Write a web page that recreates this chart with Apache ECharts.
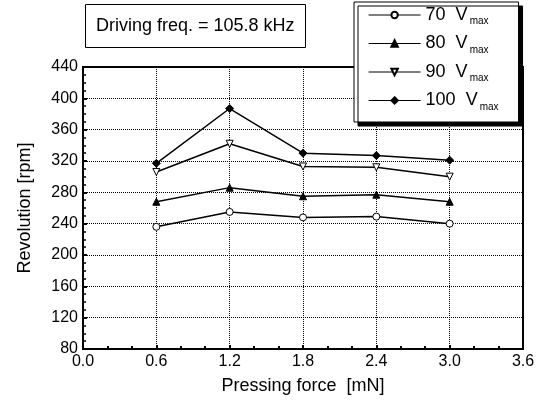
<!DOCTYPE html>
<html>
<head>
<meta charset="utf-8">
<script src="https://cdn.jsdelivr.net/npm/echarts@6/dist/echarts.min.js"></script>
<style>
  html, body { margin: 0; padding: 0; background: #fff; }
  #chart { width: 550px; height: 407px; }
</style>
</head>
<body>
<div id="chart"></div>
<script>
  // pressing force [mN]
  var force = [0.6, 1.2, 1.8, 2.4, 3.0];
  // revolution [rpm] per driving voltage
  var v70 = [236, 255, 248, 249, 240];
  var v80 = [268, 286, 275, 277, 268];
  var v90 = [306, 342, 313, 312, 300];
  var v100 = [317, 387, 330, 327, 321];
  var voltNames = ['70', '80', '90', '100'];

  function pairs(ys) {
    return force.map(function (x, i) { return [x, ys[i]]; });
  }

  var font = 'Liberation Sans, Arial, sans-serif';
  var myChart = echarts.init(document.getElementById('chart'));

  function makeSeries(name, ys, symbol, fill, rotate) {
    return {
      name: name,
      type: 'line',
      data: pairs(ys),
      symbol: symbol,
      symbolSize: symbol === 'diamond' ? 8 : 7,
      symbolRotate: rotate || 0,
      lineStyle: { color: '#000', width: 1.5 },
      itemStyle: { color: fill, borderColor: '#000', borderWidth: 1 },
      emphasis: { disabled: true },
      z: 5
    };
  }

  myChart.setOption({
    animation: false,
    title: {
      text: 'Driving freq. = 105.8 kHz',
      left: 85,
      top: 4,
      padding: [13, 11, 13, 11],
      borderColor: '#000',
      borderWidth: 1,
      textStyle: { fontFamily: font, fontSize: 18, fontWeight: 'normal', color: '#000' }
    },
    legend: {
      orient: 'vertical',
      left: 354,
      top: 2,
      padding: [4, 20, 10, 14],
      itemWidth: 52,
      itemHeight: 8,
      itemGap: 8,
      backgroundColor: '#fff',
      borderColor: '#000',
      borderWidth: 1,
      shadowColor: '#000',
      shadowBlur: 0,
      shadowOffsetX: 4,
      shadowOffsetY: 4,
      lineStyle: { width: 1.2 },
      data: voltNames,
      formatter: function (n) { return '{n|' + n + '  V}{s|max}'; },
      textStyle: {
        fontFamily: font,
        color: '#000',
        rich: {
          n: { fontFamily: font, fontSize: 18, color: '#000' },
          s: { fontFamily: font, fontSize: 10, color: '#000', verticalAlign: 'bottom', padding: [13, 0, 0, 2] }
        }
      }
    },
    grid: {
      left: 83,
      right: 27,
      top: 67,
      bottom: 58,
      show: true,
      borderColor: '#000',
      borderWidth: 2,
      backgroundColor: 'transparent'
    },
    xAxis: {
      type: 'value',
      min: 0,
      max: 3.6,
      interval: 0.6,
      name: 'Pressing force  [mN]',
      nameLocation: 'middle',
      nameGap: 28,
      nameTextStyle: { fontFamily: font, fontSize: 18, color: '#000' },
      axisLine: { lineStyle: { color: '#000', width: 2 } },
      axisTick: { inside: true, length: 4, lineStyle: { color: '#000', width: 2 } },
      minorTick: { show: true, splitNumber: 3, length: 3, lineStyle: { color: '#000', width: 2 } },
      axisLabel: {
        fontFamily: font, fontSize: 16, color: '#000', margin: 5,
        formatter: function (v) { return v.toFixed(1); }
      },
      splitLine: { show: true, lineStyle: { color: '#000', type: 'dotted', width: 1 } }
    },
    yAxis: {
      type: 'value',
      min: 80,
      max: 440,
      interval: 40,
      name: 'Revolution [rpm]',
      nameLocation: 'middle',
      nameGap: 49,
      nameTextStyle: { fontFamily: font, fontSize: 18, color: '#000' },
      axisLine: { lineStyle: { color: '#000', width: 2 } },
      axisTick: { inside: true, length: 4, lineStyle: { color: '#000', width: 2 } },
      minorTick: { show: true, splitNumber: 4, length: 3, lineStyle: { color: '#000', width: 1.5 } },
      axisLabel: { fontFamily: font, fontSize: 16, color: '#000', margin: 5 },
      splitLine: { show: true, lineStyle: { color: '#000', type: 'dotted', width: 1 } }
    },
    series: [
      makeSeries('70', v70, 'circle', '#fff'),
      makeSeries('80', v80, 'triangle', '#000'),
      makeSeries('90', v90, 'triangle', '#fff', 180),
      makeSeries('100', v100, 'diamond', '#000')
    ]
  });

  window.addEventListener('resize', function () {
    myChart.resize();
  });
</script>
</body>
</html>
